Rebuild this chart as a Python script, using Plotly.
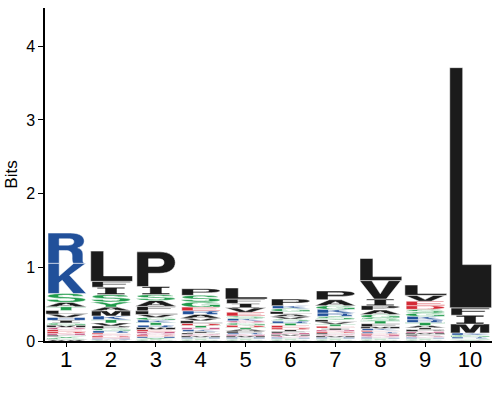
import re
import plotly.graph_objects as go

positions = [1, 2, 3, 4, 5, 6, 7, 8, 9, 10]
tick_labels = ["1", "2", "3", "4", "5", "6", "7", "8", "9", "10"]
y_ticks = [0, 1, 2, 3, 4]

# letters listed top -> bottom, with their heights in bits
pos1_letters = ["R", "K", "S", "A", "T", "L", "V", "H", "I", "G", "M", "Q", "E", "D", "N", "F", "Y", "C", "W"]
pos1_heights = [0.41, 0.41, 0.12, 0.06, 0.05, 0.05, 0.045, 0.04, 0.035, 0.03, 0.03, 0.03, 0.025, 0.025, 0.025, 0.02, 0.02, 0.02, 0.02]

pos2_letters = ["L", "F", "I", "S", "Y", "A", "M", "K", "T", "V", "P", "G", "R", "E", "Q", "D", "N", "H", "W", "C"]
pos2_heights = [0.41, 0.08, 0.10, 0.10, 0.07, 0.05, 0.07, 0.05, 0.045, 0.04, 0.035, 0.03, 0.03, 0.02, 0.02, 0.02, 0.015, 0.015, 0.01, 0.01]

pos3_letters = ["P", "I", "S", "A", "F", "L", "V", "G", "K", "T", "R", "M", "E", "N", "Q", "D", "H", "Y", "C", "W"]
pos3_heights = [0.47, 0.11, 0.08, 0.08, 0.06, 0.05, 0.04, 0.035, 0.035, 0.035, 0.03, 0.03, 0.025, 0.025, 0.025, 0.02, 0.02, 0.02, 0.01, 0.01]

pos4_letters = ["P", "S", "G", "E", "R", "A", "V", "L", "D", "T", "N", "K", "I", "F", "Q", "M", "H", "Y", "C", "W"]
pos4_heights = [0.09, 0.09, 0.07, 0.05, 0.05, 0.05, 0.035, 0.035, 0.03, 0.03, 0.025, 0.025, 0.02, 0.02, 0.02, 0.02, 0.015, 0.015, 0.01, 0.01]

pos5_letters = ["L", "F", "I", "V", "E", "S", "K", "Q", "G", "D", "T", "A", "P", "R", "N", "M", "H", "Y", "C", "W"]
pos5_heights = [0.15, 0.06, 0.06, 0.06, 0.05, 0.035, 0.03, 0.03, 0.03, 0.03, 0.025, 0.025, 0.025, 0.02, 0.02, 0.02, 0.015, 0.015, 0.01, 0.01]

pos6_letters = ["P", "K", "G", "L", "A", "V", "S", "R", "T", "E", "D", "I", "F", "N", "M", "Q", "H", "Y", "C", "W"]
pos6_heights = [0.09, 0.04, 0.04, 0.035, 0.035, 0.03, 0.03, 0.03, 0.03, 0.03, 0.025, 0.025, 0.02, 0.02, 0.02, 0.02, 0.015, 0.015, 0.01, 0.01]

pos7_letters = ["P", "A", "G", "K", "R", "S", "L", "V", "T", "E", "I", "N", "D", "F", "Q", "M", "H", "Y", "C", "W"]
pos7_heights = [0.12, 0.08, 0.05, 0.05, 0.045, 0.045, 0.03, 0.03, 0.03, 0.025, 0.025, 0.02, 0.02, 0.02, 0.02, 0.02, 0.015, 0.015, 0.01, 0.01]

pos8_letters = ["L", "V", "I", "P", "A", "G", "S", "T", "F", "M", "K", "E", "R", "D", "N", "Q", "H", "Y", "C", "W"]
pos8_heights = [0.30, 0.25, 0.09, 0.06, 0.06, 0.045, 0.04, 0.04, 0.04, 0.025, 0.025, 0.02, 0.02, 0.02, 0.02, 0.015, 0.015, 0.015, 0.01, 0.01]

pos9_letters = ["L", "V", "E", "D", "S", "G", "K", "R", "T", "A", "I", "P", "N", "M", "F", "Q", "H", "Y", "C", "W"]
pos9_heights = [0.14, 0.08, 0.06, 0.05, 0.05, 0.045, 0.045, 0.04, 0.04, 0.03, 0.025, 0.025, 0.02, 0.02, 0.02, 0.02, 0.015, 0.015, 0.01, 0.01]

pos10_letters = ["L", "F", "I", "M", "K", "G", "R", "S", "T", "V"]
pos10_heights = [3.26, 0.10, 0.12, 0.12, 0.03, 0.025, 0.02, 0.015, 0.01, 0.01]

stacks = [
    (pos1_letters, pos1_heights), (pos2_letters, pos2_heights), (pos3_letters, pos3_heights),
    (pos4_letters, pos4_heights), (pos5_letters, pos5_heights), (pos6_letters, pos6_heights),
    (pos7_letters, pos7_heights), (pos8_letters, pos8_heights), (pos9_letters, pos9_heights),
    (pos10_letters, pos10_heights),
]

BLACK = "#1b1b1b"
BLUE = "#21509a"
GREEN = "#1f9b4a"
RED = "#d42a36"
PURPLE = "#c24a7c"
COLORS = {}
for c in "AVLIPWFM":
    COLORS[c] = BLACK
for c in "KRH":
    COLORS[c] = BLUE
for c in "GSTYC":
    COLORS[c] = GREEN
for c in "DE":
    COLORS[c] = RED
for c in "NQ":
    COLORS[c] = PURPLE

O_OUT = "M0.5,0 C0.2,0 0.05,0.22 0.05,0.5 C0.05,0.78 0.2,1 0.5,1 C0.8,1 0.95,0.78 0.95,0.5 C0.95,0.22 0.8,0 0.5,0 Z "
O_IN = "M0.5,0.18 C0.37,0.18 0.3,0.3 0.3,0.5 C0.3,0.7 0.37,0.82 0.5,0.82 C0.63,0.82 0.7,0.7 0.7,0.5 C0.7,0.3 0.63,0.18 0.5,0.18 Z"

GLYPHS = {
    "L": ["M0.03,0 L1.0,0 L1.0,0.18 L0.33,0.18 L0.33,1 L0.03,1 Z"],
    "I": ["M0.18,0 L0.82,0 L0.82,0.2 L0.64,0.2 L0.64,0.8 L0.82,0.8 L0.82,1 L0.18,1 L0.18,0.8 L0.36,0.8 L0.36,0.2 L0.18,0.2 Z"],
    "T": ["M0.04,1 L0.96,1 L0.96,0.8 L0.63,0.8 L0.63,0 L0.37,0 L0.37,0.8 L0.04,0.8 Z"],
    "F": ["M0.06,0 L0.06,1 L0.95,1 L0.95,0.81 L0.32,0.81 L0.32,0.6 L0.85,0.6 L0.85,0.42 L0.32,0.42 L0.32,0 Z"],
    "E": ["M0.06,0 L0.06,1 L0.93,1 L0.93,0.81 L0.32,0.81 L0.32,0.6 L0.86,0.6 L0.86,0.42 L0.32,0.42 L0.32,0.19 L0.95,0.19 L0.95,0 Z"],
    "P": ["M0.06,0 L0.06,1 L0.58,1 C0.84,1 0.95,0.86 0.95,0.69 C0.95,0.52 0.84,0.38 0.58,0.38 L0.33,0.38 L0.33,0 Z "
          "M0.33,0.58 L0.55,0.58 C0.66,0.58 0.69,0.63 0.69,0.69 C0.69,0.76 0.66,0.8 0.55,0.8 L0.33,0.8 Z"],
    "R": ["M0.08,0 L0.08,1 L0.6,1 C0.84,1 0.92,0.87 0.92,0.74 C0.92,0.62 0.86,0.55 0.77,0.51 C0.87,0.46 0.89,0.38 0.89,0.28 "
          "L0.89,0.08 C0.89,0.04 0.9,0.02 0.93,0 L0.67,0 C0.65,0.03 0.64,0.08 0.64,0.15 L0.64,0.25 C0.64,0.36 0.59,0.42 0.49,0.42 "
          "L0.34,0.42 L0.34,0 Z M0.34,0.6 L0.55,0.6 C0.65,0.6 0.68,0.65 0.68,0.71 C0.68,0.78 0.65,0.81 0.55,0.81 L0.34,0.81 Z"],
    "K": ["M0.08,0 L0.08,1 L0.34,1 L0.34,0.58 L0.68,1 L0.96,1 L0.58,0.6 L0.97,0 L0.67,0 L0.41,0.44 L0.34,0.36 L0.34,0 Z"],
    "V": ["M0.02,1 L0.3,1 L0.5,0.28 L0.7,1 L0.98,1 L0.64,0 L0.36,0 Z"],
    "A": ["M0.02,0 L0.36,1 L0.64,1 L0.98,0 L0.72,0 L0.65,0.2 L0.35,0.2 L0.28,0 Z M0.41,0.38 L0.59,0.38 L0.5,0.68 Z"],
    "M": ["M0.05,0 L0.05,1 L0.4,1 L0.5,0.4 L0.6,1 L0.95,1 L0.95,0 L0.73,0 L0.73,0.7 L0.6,0 L0.4,0 L0.27,0.7 L0.27,0 Z"],
    "S": ["M0.9,0.7 L0.67,0.7 C0.65,0.8 0.58,0.82 0.5,0.82 C0.4,0.82 0.32,0.78 0.32,0.72 C0.32,0.65 0.4,0.63 0.55,0.59 "
          "C0.8,0.53 0.95,0.47 0.95,0.29 C0.95,0.08 0.75,0 0.5,0 C0.2,0 0.05,0.12 0.05,0.33 L0.3,0.33 C0.31,0.22 0.38,0.18 0.5,0.18 "
          "C0.62,0.18 0.7,0.22 0.7,0.29 C0.7,0.37 0.62,0.39 0.45,0.43 C0.22,0.48 0.07,0.55 0.07,0.72 C0.07,0.9 0.25,1 0.5,1 "
          "C0.75,1 0.9,0.9 0.9,0.7 Z"],
    "C": ["M0.95,0.65 L0.7,0.65 C0.67,0.76 0.6,0.82 0.5,0.82 C0.36,0.82 0.3,0.68 0.3,0.5 C0.3,0.32 0.36,0.18 0.5,0.18 "
          "C0.6,0.18 0.68,0.25 0.7,0.36 L0.95,0.36 C0.92,0.13 0.75,0 0.5,0 C0.2,0 0.05,0.22 0.05,0.5 C0.05,0.78 0.2,1 0.5,1 "
          "C0.75,1 0.92,0.86 0.95,0.65 Z"],
    "G": ["M0.95,0.68 L0.7,0.68 C0.67,0.77 0.6,0.82 0.5,0.82 C0.36,0.82 0.3,0.68 0.3,0.5 C0.3,0.32 0.36,0.18 0.5,0.18 "
          "C0.62,0.18 0.7,0.26 0.71,0.36 L0.52,0.36 L0.52,0.52 L0.95,0.52 L0.95,0 L0.8,0 L0.78,0.1 C0.72,0.03 0.62,0 0.5,0 "
          "C0.2,0 0.05,0.22 0.05,0.5 C0.05,0.78 0.2,1 0.5,1 C0.75,1 0.92,0.87 0.95,0.68 Z"],
    "D": ["M0.06,0 L0.06,1 L0.5,1 C0.8,1 0.95,0.8 0.95,0.5 C0.95,0.2 0.8,0 0.5,0 Z "
          "M0.32,0.18 L0.48,0.18 C0.63,0.18 0.7,0.3 0.7,0.5 C0.7,0.7 0.63,0.82 0.48,0.82 L0.32,0.82 Z"],
    "N": ["M0.06,0 L0.06,1 L0.32,1 L0.7,0.38 L0.7,1 L0.94,1 L0.94,0 L0.68,0 L0.3,0.62 L0.3,0 Z"],
    "H": ["M0.06,0 L0.06,1 L0.31,1 L0.31,0.6 L0.69,0.6 L0.69,1 L0.94,1 L0.94,0 L0.69,0 L0.69,0.42 L0.31,0.42 L0.31,0 Z"],
    "Y": ["M0.02,1 L0.3,1 L0.5,0.62 L0.7,1 L0.98,1 L0.63,0.4 L0.63,0 L0.37,0 L0.37,0.4 Z"],
    "W": ["M0.0,1 L0.2,1 L0.3,0.35 L0.42,1 L0.58,1 L0.7,0.35 L0.8,1 L1.0,1 L0.82,0 L0.6,0 L0.5,0.6 L0.4,0 L0.18,0 Z"],
    "Q": [O_OUT + O_IN, "M0.52,0.3 L0.66,0.4 L0.98,0.08 L0.84,0 Z"],
}

TOKEN = re.compile(r"[MLCQZ]|-?[\d.]+,-?[\d.]+")


def place(path, x0, w, y0, h):
    parts = []
    for tok in TOKEN.findall(path):
        if "," in tok:
            u, v = (float(s) for s in tok.split(","))
            parts.append(f"{x0 + u * w:.5f},{y0 + v * h:.5f}")
        else:
            parts.append(tok)
    s = ""
    for t in parts:
        if t in "MLCQZ":
            s += " " + t
        else:
            s += (" " if not s.endswith(tuple("MLCQ")) else "") + t
    return s.strip()


BOX_W = 0.96
shapes = []
for pos, (letters, heights) in zip(positions, stacks):
    y = 0.0
    for letter, h in reversed(list(zip(letters, heights))):
        for sub in GLYPHS[letter]:
            shapes.append(dict(
                type="path", xref="x", yref="y",
                path=place(sub, pos - BOX_W / 2, BOX_W, y, h),
                fillcolor=COLORS[letter], line=dict(width=0.5, color="white"), layer="above",
            ))
        y += h

fig = go.Figure()
fig.add_trace(go.Scatter(x=positions, y=[0] * len(positions), mode="markers",
                         marker=dict(opacity=0), hoverinfo="skip", showlegend=False))
fig.update_layout(
    width=500, height=400,
    margin=dict(l=45, r=8, t=8, b=59),
    plot_bgcolor="white", paper_bgcolor="white",
    showlegend=False,
    shapes=shapes,
    font=dict(family="Liberation Sans, Arial, sans-serif", color="black"),
    xaxis=dict(range=[0.53, 10.49], tickvals=positions, ticktext=tick_labels,
               showline=True, linecolor="black", linewidth=1.5, mirror=False,
               ticks="outside", ticklen=4, tickwidth=1, tickcolor="black",
               tickfont=dict(size=22), ticklabelstandoff=-6,
               showgrid=False, zeroline=False, automargin=False),
    yaxis=dict(range=[0, 4.52], tickvals=y_ticks, ticktext=[str(v) for v in y_ticks],
               showline=True, linecolor="black", linewidth=1.5,
               ticks="outside", ticklen=5, tickwidth=1, tickcolor="black",
               tickfont=dict(size=16), showgrid=False, zeroline=False, automargin=False,
               title=dict(text="Bits", font=dict(size=17), standoff=4)),
)
fig.write_html("out.html")
